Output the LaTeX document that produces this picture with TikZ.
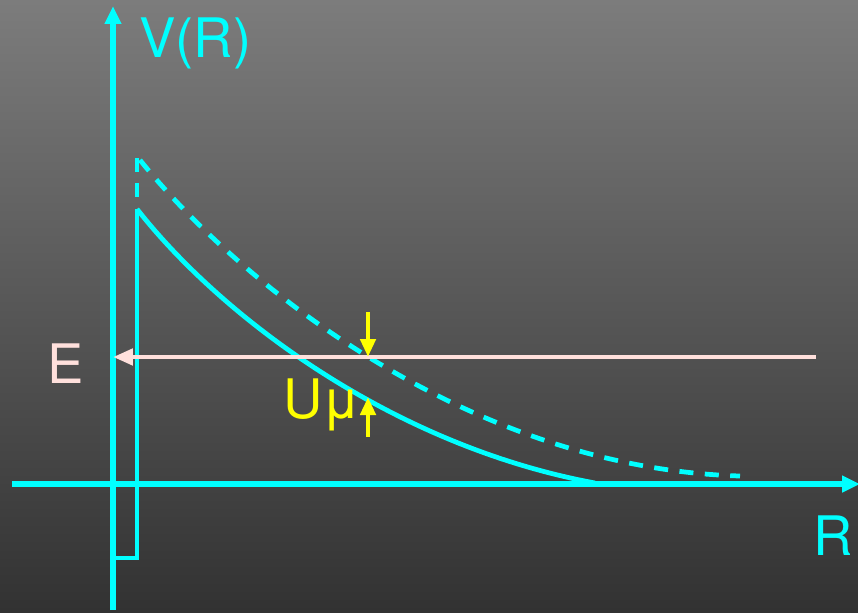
\documentclass[tikz,border=0pt]{standalone}
\usepackage{fontspec}
\setmainfont{TeX Gyre Heros}
\usepackage{tikz}
\usetikzlibrary{arrows.meta,positioning,calc}
\definecolor{bgtop}{RGB}{124,124,124}
\definecolor{bgbot}{RGB}{50,50,50}
\definecolor{potcyan}{RGB}{0,255,255}
\definecolor{epink}{RGB}{255,224,220}
\definecolor{uyellow}{RGB}{255,255,0}
\tikzset{
  % Base styles
  diagram base/.style={
    x=0.02cm, y=-0.02cm,
    every node/.style={font=\fontsize{31}{36}\selectfont, inner sep=0pt},
  },
  % Axes and curves
  axis line/.style={draw=potcyan, line width=2.9pt, -{Triangle[length=0.36cm, width=0.32cm]}},
  well line/.style={draw=potcyan, line width=2.7pt},
  pot curve/.style={draw=potcyan, line width=2.7pt},
  pot dashed/.style={draw=potcyan, line width=2.7pt, dash pattern=on 8pt off 6.5pt},
  % Energy level and shift markers
  energy line/.style={draw=epink, line width=2.7pt, -{Triangle[length=0.4cm, width=0.32cm]}},
  shift arrow/.style={draw=uyellow, line width=2.7pt, -{Triangle[length=0.36cm, width=0.3cm]}},
  % Labels
  axis label/.style={text=potcyan, anchor=base west},
}

\begin{document}
\begin{tikzpicture}[diagram base]
% Background
\shade[top color=bgtop, bottom color=bgbot] (0,0) rectangle (858,612);
\useasboundingbox (0,0) rectangle (858,612);

% Axes
\coordinate (yb) at (113,610);
\coordinate (yt) at (113,6);
\coordinate (xl) at (12,484);
\coordinate (xr) at (860,484);
\draw[axis line] (yb) -- (yt);
\draw[axis line] (xl) -- (xr);

% Well
\coordinate (wl) at (113,558);
\coordinate (wb) at (137,558);
\coordinate (wt) at (137,209);
\draw[well line] (wl) -- (wb) -- (wt);

% Potential curves
\coordinate (se) at (595,483);
\draw[pot curve] (wt) .. controls (220,315) and (390,445) .. (se);
\coordinate (dt) at (137,158);
\coordinate (db) at (137,197);
\coordinate (ds) at (140,160);
\coordinate (de) at (740,476);
\draw[pot dashed] (db) -- (dt);
\draw[pot dashed] (ds) .. controls (232,275) and (462,468) .. (de);

% Energy level
\coordinate (er) at (816,357);
\coordinate (el) at (113,357);
\draw[energy line] (er) -- (el);

% Shift markers
\coordinate (ua) at (368,312);
\coordinate (ub) at (368,357);
\coordinate (uc) at (368,437);
\coordinate (ud) at (368,397);
\draw[shift arrow] (ua) -- (ub);
\draw[shift arrow] (uc) -- (ud);

% Labels
\node[axis label] (vlab) at (139,57) {V(R)};
\node[axis label] (rlab) at (813,555) {R};
\node[anchor=base west, text=epink] (elab) at (47,383) {E};
\node[anchor=base west, text=uyellow] (ulab) at (283,418) {Uμ};
\end{tikzpicture}
\end{document}
